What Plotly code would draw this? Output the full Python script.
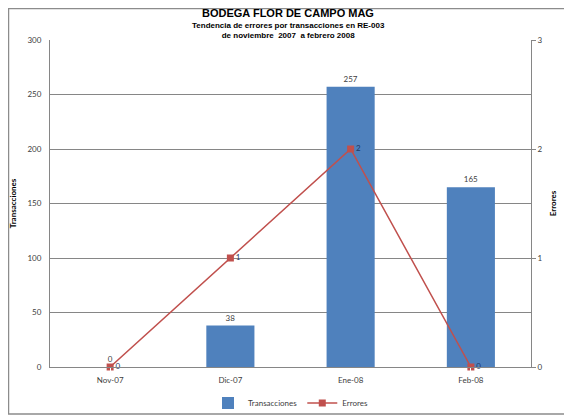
import plotly.graph_objects as go

# data
meses = ["Nov-07", "Dic-07", "Ene-08", "Feb-08"]
transacciones = [0, 38, 257, 165]
errores = [0, 1, 2, 0]

azul = "#4F81BD"
rojo = "#C0504D"
gris = "#868686"

fig = go.Figure()
fig.add_trace(go.Bar(
    x=meses, y=transacciones, name="Transacciones",
    marker=dict(color=azul, line=dict(width=0)),
    text=transacciones, textposition="outside", cliponaxis=False,
    textfont=dict(size=8, color="#404040", family="Lato")))
fig.add_trace(go.Scatter(
    x=meses, y=errores, name="Errores", yaxis="y2",
    mode="lines+markers+text",
    line=dict(color=rojo, width=1.5),
    marker=dict(symbol="square", size=7, color=rojo),
    text=errores, textposition="middle right", cliponaxis=False,
    textfont=dict(size=8, color="#1F3864", family="Lato")))

# page body has an 8px margin, so the figure is sized to end at the window edge
fig.update_layout(
    width=564, height=407,
    margin=dict(l=42, r=41, t=32, b=48, autoexpand=False),
    paper_bgcolor="white", plot_bgcolor="white",
    font=dict(family="Lato", size=8, color="#404040"),
    bargap=0.6,
    showlegend=True,
    legend=dict(orientation="h", x=0.5, xanchor="center", y=-0.11, yanchor="middle",
                font=dict(size=8, color="#404040"), bgcolor="rgba(0,0,0,0)"),
    xaxis=dict(showline=True, linecolor=gris, ticks="outside", ticklen=5, tickcolor="white",
               showgrid=False, tickfont=dict(size=8)),
    yaxis=dict(range=[0, 300], dtick=50, showline=True, linecolor=gris,
               gridcolor=gris, gridwidth=1, ticks="", zeroline=False,
               tickfont=dict(size=8), ticklabelstandoff=6,
               title=dict(text="<b>Transacciones</b>", font=dict(size=8, color="black"), standoff=10)),
    yaxis2=dict(range=[0, 3], dtick=1, overlaying="y", side="right",
                showline=True, linecolor=gris, showgrid=False, zeroline=False,
                ticks="outside", ticklen=4, tickcolor=gris,
                tickfont=dict(size=8),
                title=dict(text="<b>Errores</b>", font=dict(size=8, color="black"), standoff=8)),
)

fig.add_annotation(text="<b>BODEGA FLOR DE CAMPO MAG</b>", xref="paper", yref="paper",
                   x=0.495, y=1.082, xanchor="center", yanchor="middle", showarrow=False,
                   font=dict(family="Liberation Sans", size=11, color="black"))
fig.add_annotation(text="<b>Tendencia de errores por transacciones en RE-003<br>de noviembre  2007  a febrero 2008</b>",
                   xref="paper", yref="paper", x=0.495, y=1.03, xanchor="center", yanchor="middle",
                   showarrow=False, font=dict(family="Liberation Sans", size=8, color="black"))

# chart border
fig.add_shape(type="rect", xref="paper", yref="paper", x0=-0.0863, x1=1.0832, y0=-0.1437, y1=1.0963,
              line=dict(color="#8C8C8C", width=1.5), layer="below")

fig.write_html("out.html")
